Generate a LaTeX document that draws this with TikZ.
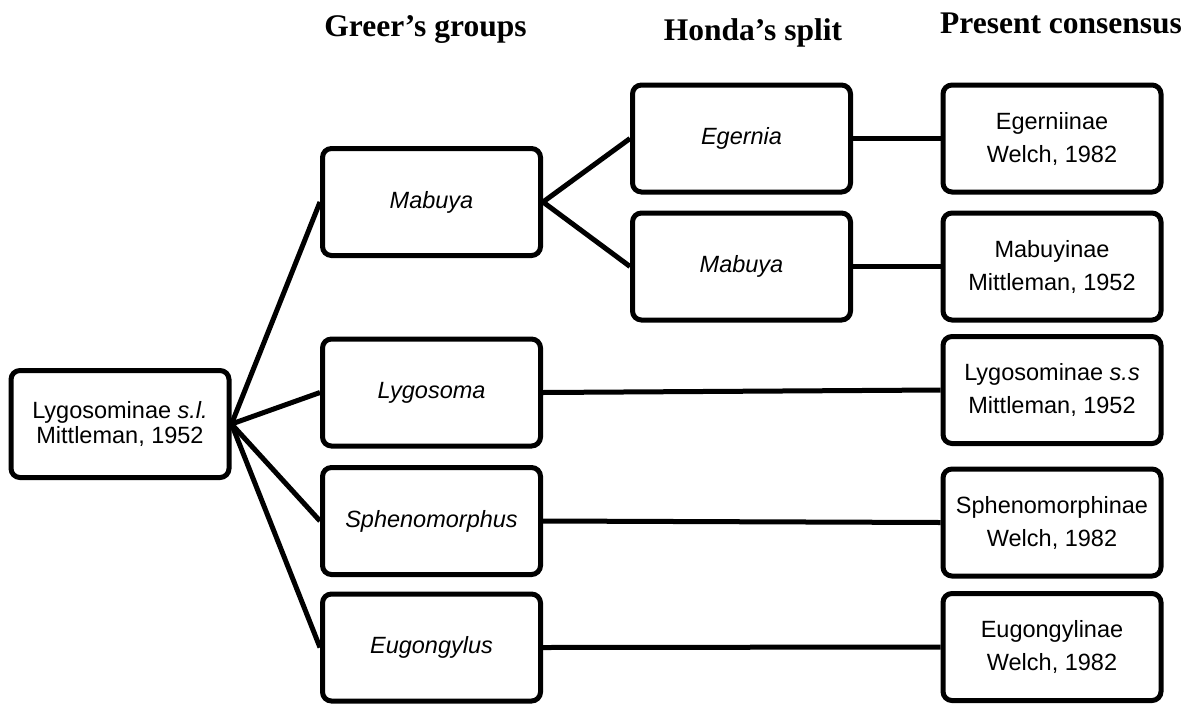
\documentclass[tikz,border=0pt]{standalone}
\usepackage{fontspec}
\setmainfont{Liberation Sans}
\newfontfamily\headfont{Liberation Serif}
\begin{document}
\begin{tikzpicture}[x=1pt,y=-1pt,
  box/.style={draw=black,line width=5pt,rounded corners=9pt,minimum width=218pt,minimum height=107pt,align=center,inner sep=0pt,font=\fontsize{23.5}{33}\selectfont},
  rootbox/.style={box,font=\fontsize{23.5}{25}\selectfont},
  link/.style={line width=5pt},
  head/.style={font=\headfont\bfseries\fontsize{31.5}{36}\selectfont,anchor=base,inner sep=0pt}]
\useasboundingbox (0,0) rectangle (1190,704);
% headers
\node[head] (h1) at (425.5,36) {Greer’s groups};
\node[head] (h2) at (753,40) {Honda’s split};
\node[head] (h3) at (1061,33) {Present consensus};
% root
\node[rootbox] (root) at (120,424) {Lygosominae \textit{s.l.}\\Mittleman, 1952};
% Greer's groups
\node[box] (gmab) at (431.5,202) {\textit{Mabuya}};
\node[box] (glyg) at (431.5,392.5) {\textit{Lygosoma}};
\node[box] (gsph) at (431.5,521) {\textit{Sphenomorphus}};
\node[box] (geug) at (431.5,647.5) {\textit{Eugongylus}};
% Honda's split
\node[box] (hege) at (741.5,138.5) {\textit{Egernia}};
\node[box] (hmab) at (741.5,266.5) {\textit{Mabuya}};
% Present consensus
\node[box] (pege) at (1052,138.5) {Egerniinae\\Welch, 1982};
\node[box] (pmab) at (1052,266.5) {Mabuyinae\\Mittleman, 1952};
\node[box] (plyg) at (1052,390) {Lygosominae \textit{s.s}\\Mittleman, 1952};
\node[box] (psph) at (1052,522.5) {Sphenomorphinae\\Welch, 1982};
\node[box] (peug) at (1052,647) {Eugongylinae\\Welch, 1982};
% connectors
\draw[link] (root.east) -- (gmab.west);
\draw[link] (root.east) -- (glyg.west);
\draw[link] (root.east) -- (gsph.west);
\draw[link] (root.east) -- (geug.west);
\draw[link] (gmab.east) -- (hege.west);
\draw[link] (gmab.east) -- (hmab.west);
\draw[link] (hege.east) -- (pege.west);
\draw[link] (hmab.east) -- (pmab.west);
\draw[link] (glyg.east) -- (plyg.west);
\draw[link] (gsph.east) -- (psph.west);
\draw[link] (geug.east) -- (peug.west);
\end{tikzpicture}
\end{document}
